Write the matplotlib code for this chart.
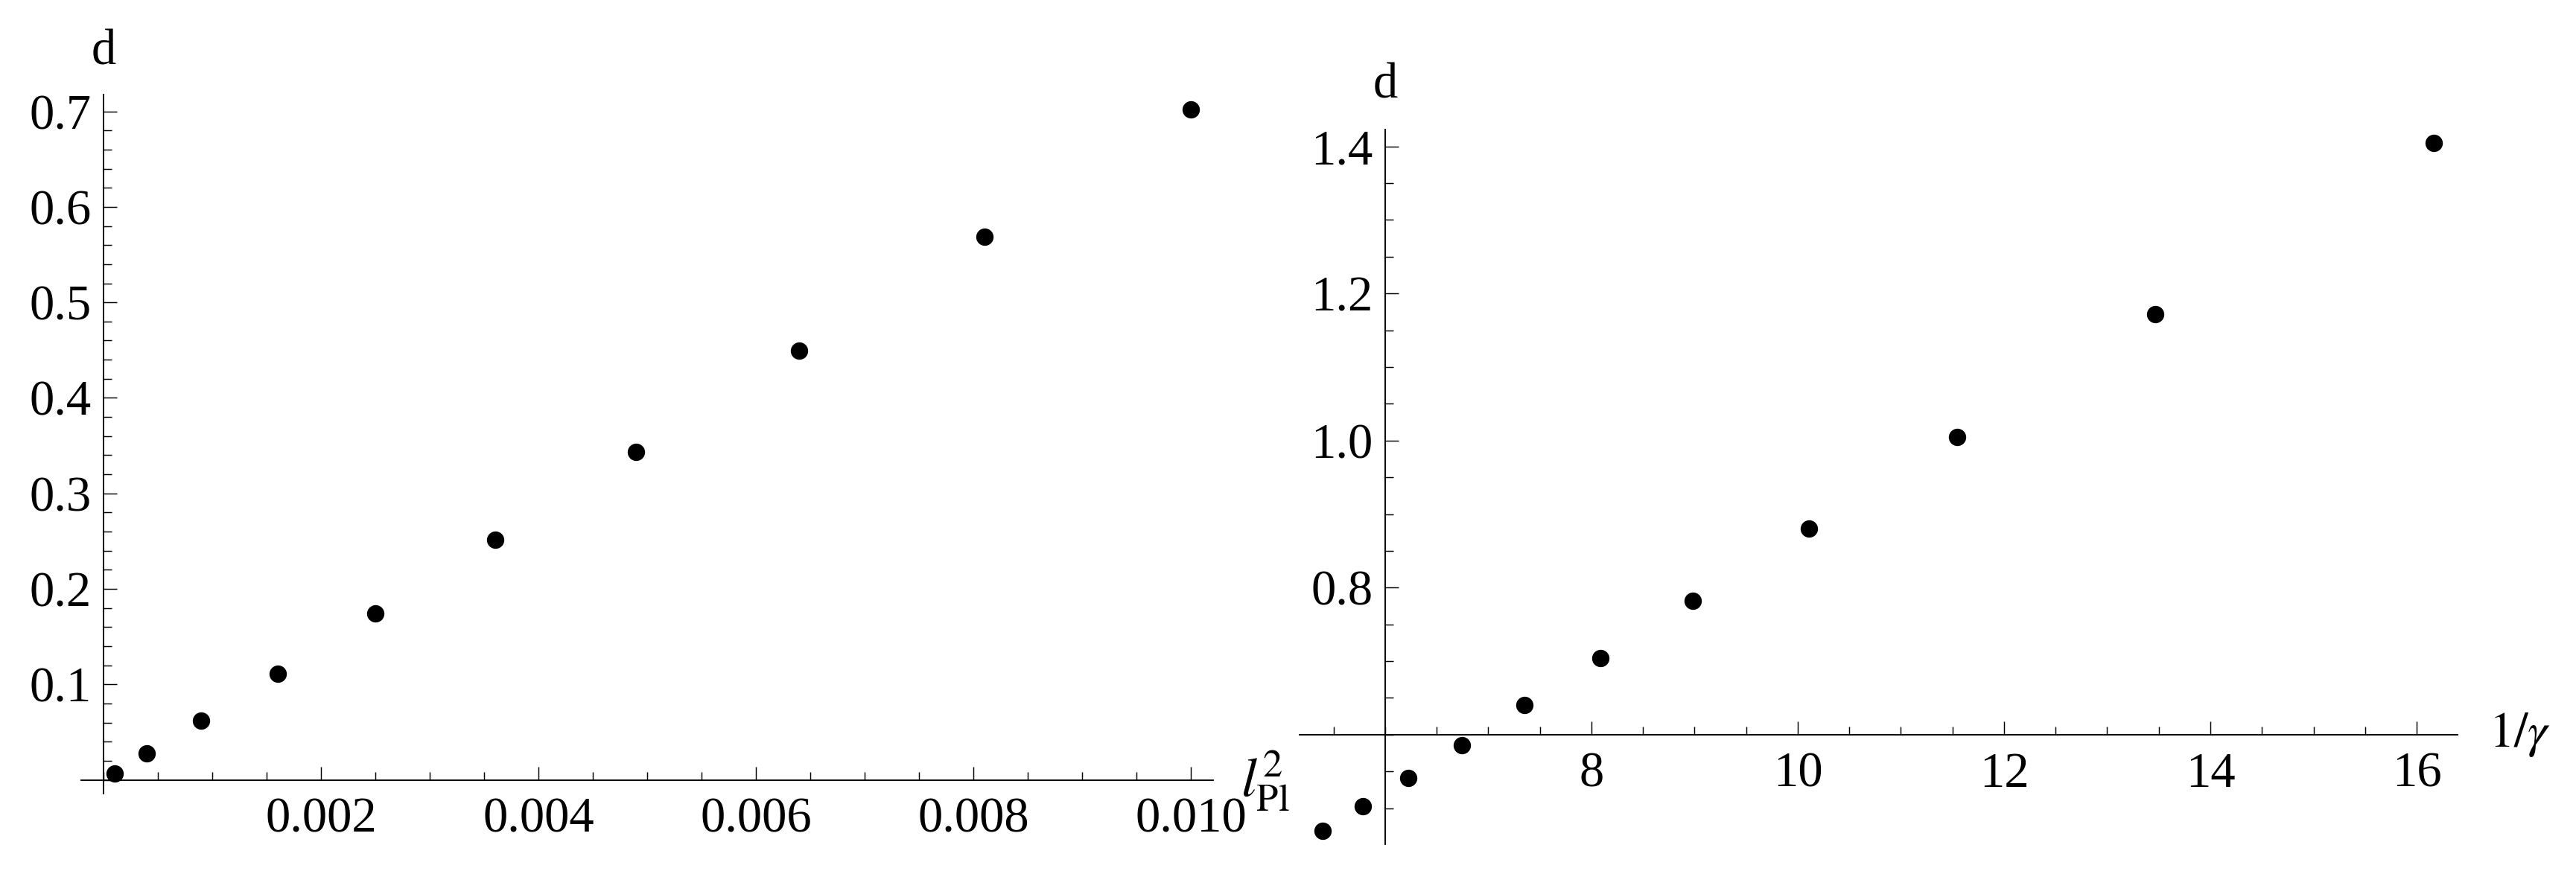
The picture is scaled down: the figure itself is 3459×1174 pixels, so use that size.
import matplotlib
matplotlib.use("Agg")
import matplotlib.pyplot as plt
from matplotlib.ticker import MultipleLocator

# -------------------------------------------------------------------------
# Données
# -------------------------------------------------------------------------
lpl2 = [0.0001, 0.0004, 0.0009, 0.0016, 0.0025, 0.0036, 0.0049, 0.0064, 0.0081, 0.0100]
d_left = [0.0068, 0.0276, 0.0624, 0.1112, 0.1746, 0.2518, 0.3433, 0.4491, 0.5688, 0.7024]

inv_gamma = [5.395, 5.781, 6.224, 6.743, 7.354, 8.086, 8.984, 10.105, 11.547, 13.468, 16.163]
d_right = [0.469, 0.503, 0.541, 0.586, 0.640, 0.704, 0.782, 0.880, 1.005, 1.172, 1.405]

left_xticks = [0.002, 0.004, 0.006, 0.008, 0.010]
left_xlabels = ["0.002", "0.004", "0.006", "0.008", "0.010"]
left_yticks = [0.1, 0.2, 0.3, 0.4, 0.5, 0.6, 0.7]
left_ylabels = ["0.1", "0.2", "0.3", "0.4", "0.5", "0.6", "0.7"]

right_xticks = [8, 10, 12, 14, 16]
right_xlabels = ["8", "10", "12", "14", "16"]
right_yticks = [0.8, 1.0, 1.2, 1.4]
right_ylabels = ["0.8", "1.0", "1.2", "1.4"]

plt.rcParams['font.family'] = ['Liberation Serif', 'DejaVu Serif']
plt.rcParams['mathtext.fontset'] = 'stix'

W, H = 3459, 1174
fig = plt.figure(figsize=(W / 300, H / 300), dpi=300)


def px_axes(left, right, top, bottom):
    return fig.add_axes([left / W, 1 - bottom / H, (right - left) / W, (bottom - top) / H])


def style_axes(ax, x0, y0, xminor, yminor):
    for s in ['top', 'right']:
        ax.spines[s].set_visible(False)
    ax.spines['left'].set_position(('data', x0))
    ax.spines['bottom'].set_position(('data', y0))
    for s in ['left', 'bottom']:
        ax.spines[s].set_linewidth(0.45)
    ax.xaxis.set_minor_locator(MultipleLocator(xminor))
    ax.yaxis.set_minor_locator(MultipleLocator(yminor))
    ax.tick_params(which='both', direction='in', width=0.35, labelsize=16)
    ax.tick_params(which='major', length=4.3)
    ax.tick_params(which='minor', length=2.6)
    ax.tick_params(axis='x', which='major', pad=5.5)
    ax.tick_params(axis='y', which='major', pad=4)
    ax.patch.set_visible(False)


# -------------------------------------------------------------------------
# Panneau gauche : d en fonction de l_Pl^2
# -------------------------------------------------------------------------
ax1 = px_axes(109, 1629, 127, 1066)
ax1.plot(lpl2, d_left, 'o', color='black', markersize=5.6, markeredgewidth=0, clip_on=False)
ax1.set_xlim(-0.000205, 0.010205)
ax1.set_ylim(-0.0143, 0.7176)
ax1.set_xticks(left_xticks, left_xlabels)
ax1.set_yticks(left_yticks, left_ylabels)
style_axes(ax1, 0, 0, 0.0005, 0.02)
ax1.annotate('d', xy=(0, 1), xycoords=('data', 'axes fraction'), xytext=(0, 9.8),
             textcoords='offset points', ha='center', va='baseline', fontsize=16)
ax1.annotate(r'$l^{2}_{\mathrm{Pl}}$', xy=(1, 0), xycoords=('axes fraction', 'data'),
             xytext=(9, 0), textcoords='offset points', ha='left', va='center', fontsize=18)

# -------------------------------------------------------------------------
# Panneau droit : d en fonction de 1/gamma
# -------------------------------------------------------------------------
ax2 = px_axes(1745, 3300, 174, 1134)
ax2.plot(inv_gamma, d_right, 'o', color='black', markersize=5.6, markeredgewidth=0, clip_on=False)
ax2.set_xlim(5.17, 16.397)
ax2.set_ylim(0.451, 1.423)
ax2.set_xticks(right_xticks, right_xlabels)
ax2.set_yticks(right_yticks, right_ylabels)
style_axes(ax2, 6, 0.6, 0.5, 0.05)
ax2.annotate('d', xy=(6, 1), xycoords=('data', 'axes fraction'), xytext=(0, 10.3),
             textcoords='offset points', ha='center', va='baseline', fontsize=16)
ax2.annotate(r'$1/\gamma$', xy=(1, 0.6), xycoords=('axes fraction', 'data'),
             xytext=(10, 0), textcoords='offset points', ha='left', va='center', fontsize=16)

fig.savefig('out.png', dpi=300, facecolor='white')
